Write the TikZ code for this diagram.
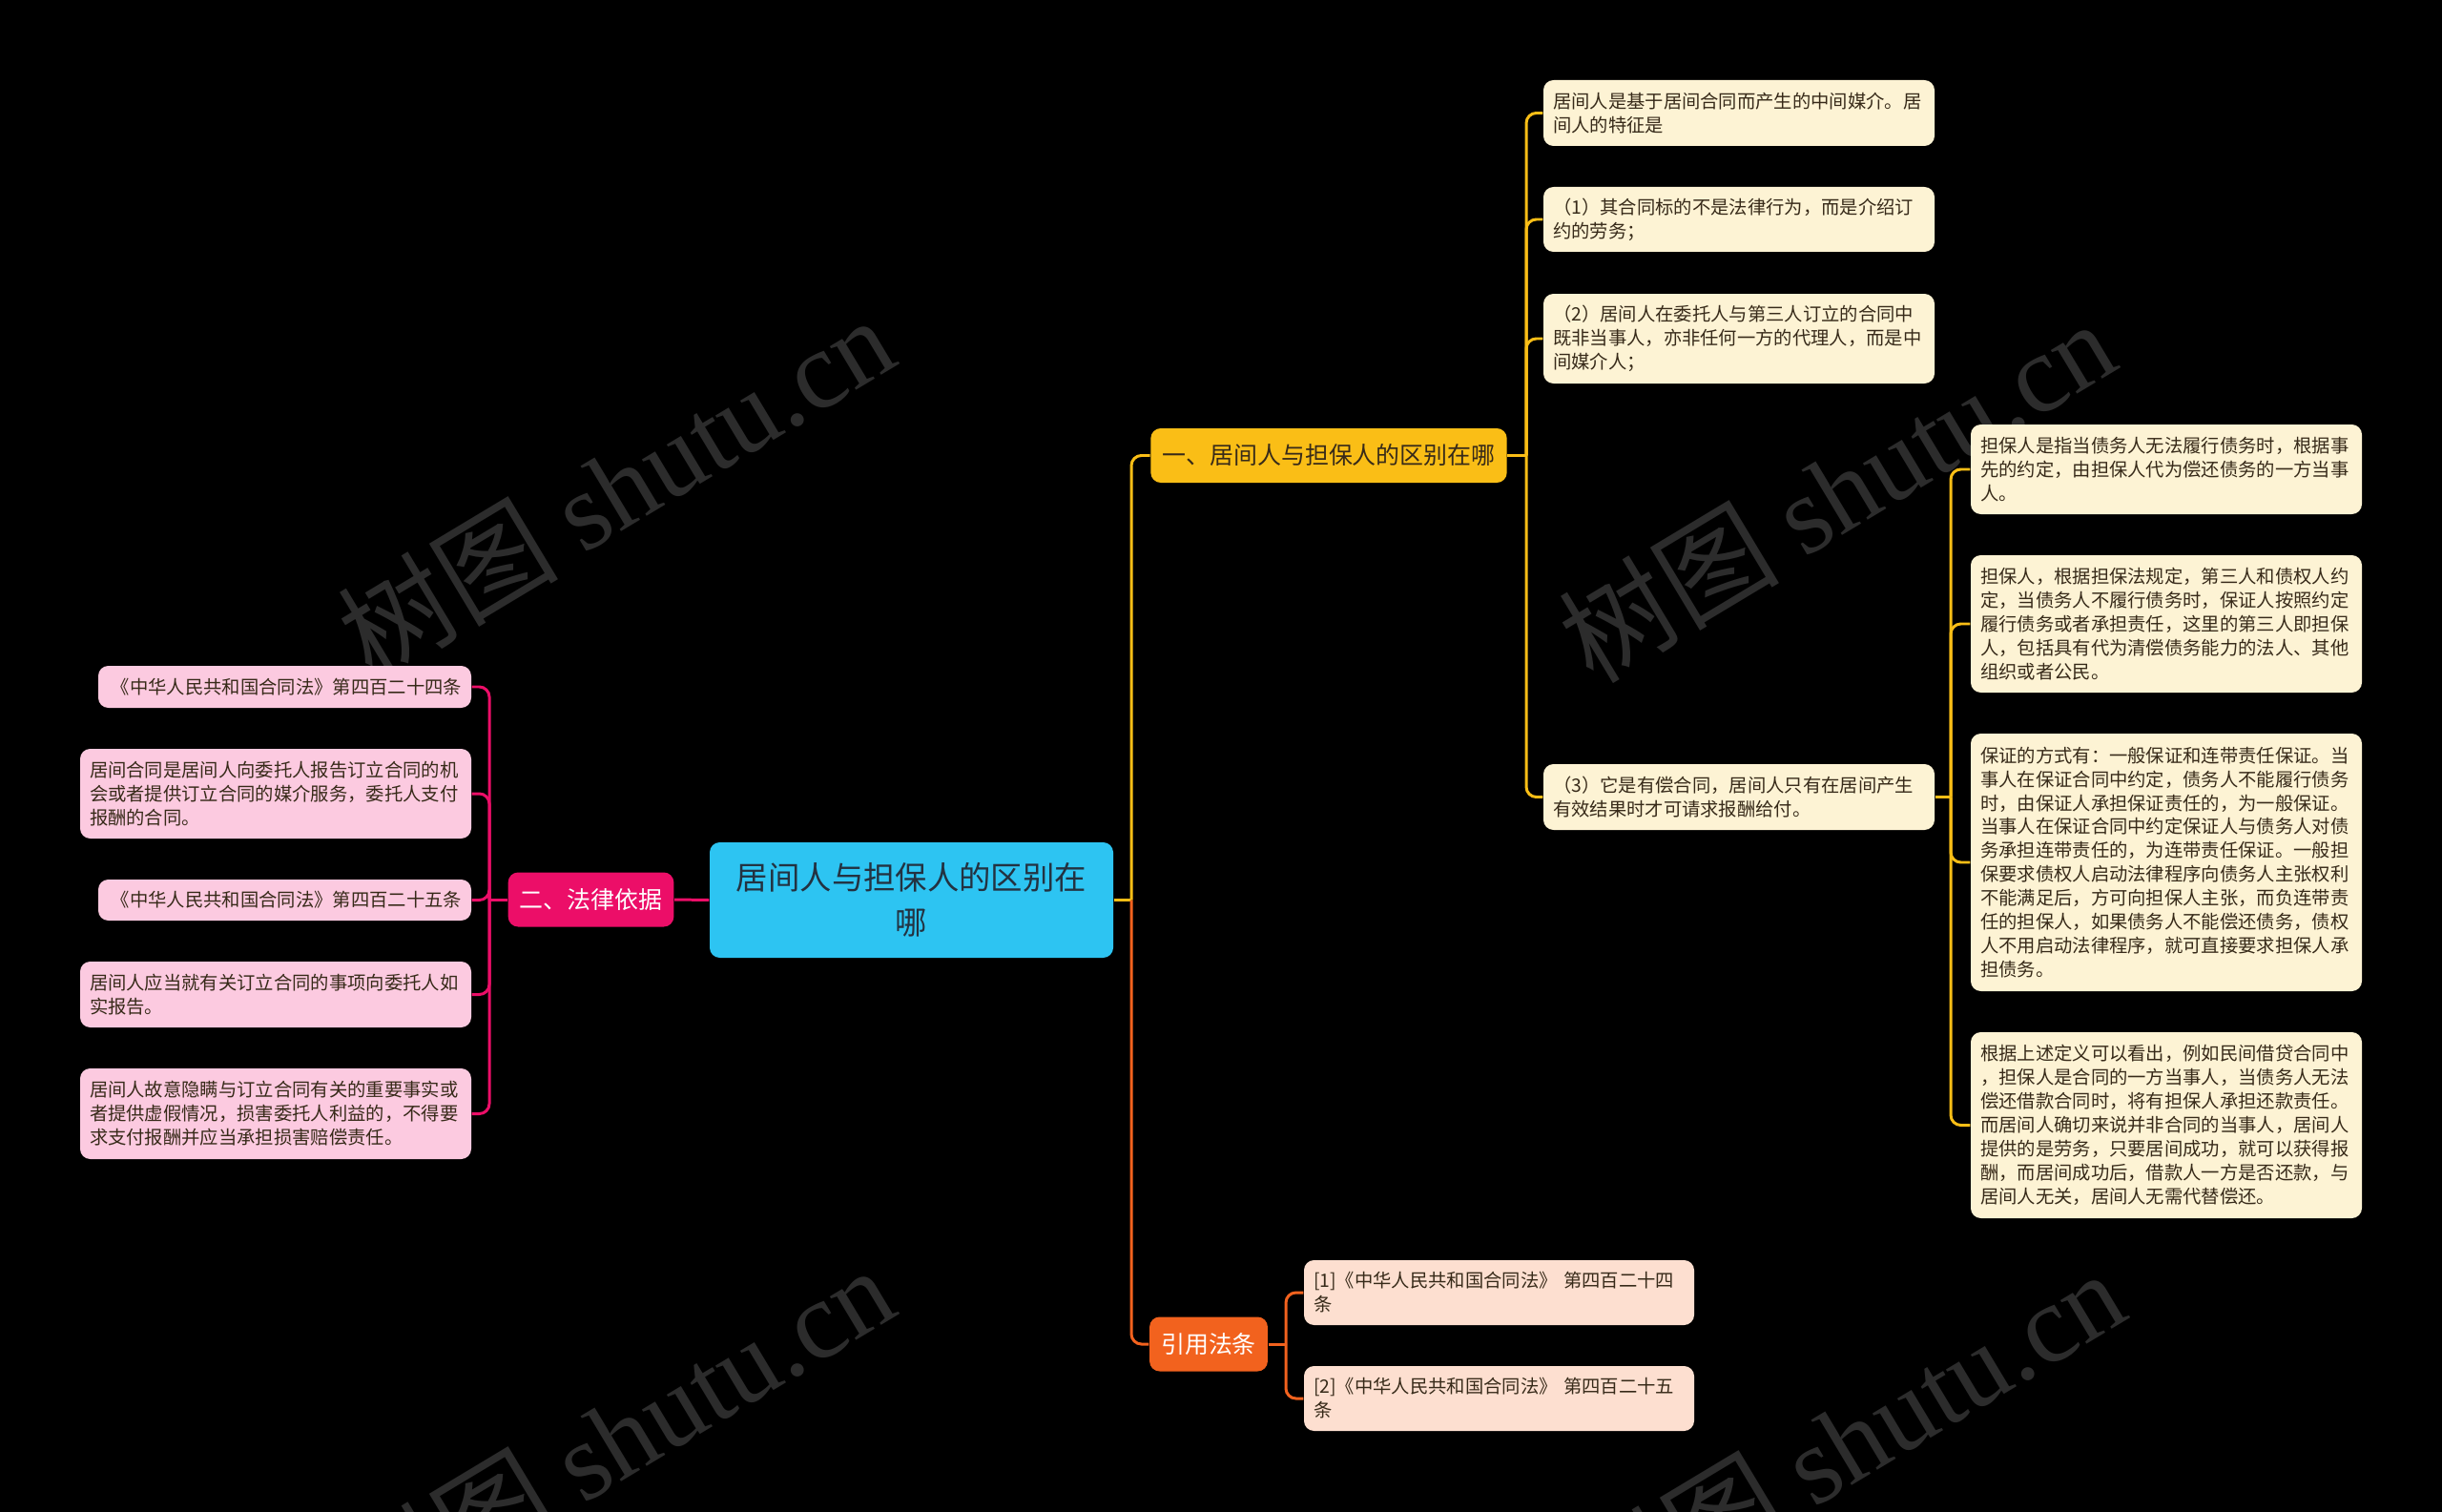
\documentclass[tikz,border=0pt]{standalone}
\usepackage{fontspec}
\setmainfont{Noto Sans CJK SC}
\newfontfamily\cjk{Noto Sans CJK SC}
\newfontfamily\wmfont{Liberation Serif}
\usetikzlibrary{positioning}

\definecolor{rootblue}{RGB}{45,196,242}
\definecolor{roottext}{RGB}{35,50,65}
\definecolor{diffyel}{RGB}{250,190,22}
\definecolor{lawpink}{RGB}{236,14,104}
\definecolor{citeorg}{RGB}{242,98,30}
\definecolor{creamfill}{RGB}{253,243,212}
\definecolor{pinkfill}{RGB}{252,202,224}
\definecolor{peachfill}{RGB}{253,223,208}
\definecolor{leaftext}{RGB}{55,42,25}
\definecolor{wmgray}{RGB}{44,44,44}

\begin{document}
\begin{tikzpicture}[
    box/.style={rounded corners=3pt, inner xsep=0.1cm, inner ysep=0pt},
    leafbox/.style={box, text=leaftext, align=left, font=\cjk\fontsize{5.5}{7.1}\selectfont},
    yleaf/.style={leafbox, fill=creamfill, text width=3.9cm},
    pleaf/.style={leafbox, fill=pinkfill, text width=3.9cm},
    oleaf/.style={leafbox, fill=peachfill, text width=3.89cm},
    branch/.style={box, inner xsep=0.12cm, minimum height=0.57cm, font=\cjk\fontsize{7.1}{8.5}\selectfont},
    link/.style={line width=0.85pt},
    elbow/.style={link, rounded corners=3pt},
    wmark/.style={rotate=31, text=wmgray, font=\cjk\fontsize{33}{36}\selectfont}
]
\fill[black] (0,0) rectangle (25.6,-15.85);
\useasboundingbox (0,0) rectangle (25.6,-15.85);

% watermark
\foreach \wx/\wy [count=\i] in {6.45/-5.1, 19.25/-5.14, 6.45/-15.06, 19.35/-15.1}
    \node[wmark] (wm\i) at (\wx,\wy) {树图 {\wmfont shutu.cn}};

% centre and branches
\node[box, fill=rootblue, text=roottext, text width=4.03cm, minimum height=1.21cm, align=center,
      font=\cjk\fontsize{9.5}{13.3}\selectfont] (root) at (9.555,-9.435) {居间人与担保人的区别在\\哪};
\node[branch, fill=lawpink, text=white] (law) at (6.195,-9.43) {二、法律依据};
\node[branch, fill=diffyel, text=leaftext] (diff) at (13.93,-4.775) {一、居间人与担保人的区别在哪};
\node[branch, fill=citeorg, text=white] (cite) at (12.67,-14.09) {引用法条};

% branch one
\node[yleaf, minimum height=0.69cm] (d1) at (18.23,-1.185) {居间人是基于居间合同而产生的中间媒介。居\\间人的特征是};
\node[yleaf, minimum height=0.68cm] (d2) at (18.23,-2.30) {（1）其合同标的不是法律行为，而是介绍订\\约的劳务；};
\node[yleaf, minimum height=0.94cm] (d3) at (18.23,-3.55) {（2）居间人在委托人与第三人订立的合同中\\既非当事人，亦非任何一方的代理人，而是中\\间媒介人；};
\node[yleaf, minimum height=0.69cm] (d4) at (18.23,-8.355) {（3）它是有偿合同，居间人只有在居间产生\\有效结果时才可请求报酬给付。};

\node[yleaf, minimum height=0.94cm] (g1) at (22.71,-4.92) {担保人是指当债务人无法履行债务时，根据事\\先的约定，由担保人代为偿还债务的一方当事\\人。};
\node[yleaf, minimum height=1.44cm] (g2) at (22.71,-6.54) {担保人，根据担保法规定，第三人和债权人约\\定，当债务人不履行债务时，保证人按照约定\\履行债务或者承担责任，这里的第三人即担保\\人，包括具有代为清偿债务能力的法人、其他\\组织或者公民。};
\node[yleaf, minimum height=2.70cm] (g3) at (22.71,-9.04) {保证的方式有：一般保证和连带责任保证。当\\事人在保证合同中约定，债务人不能履行债务\\时，由保证人承担保证责任的，为一般保证。\\当事人在保证合同中约定保证人与债务人对债\\务承担连带责任的，为连带责任保证。一般担\\保要求债权人启动法律程序向债务人主张权利\\不能满足后，方可向担保人主张，而负连带责\\任的担保人，如果债务人不能偿还债务，债权\\人不用启动法律程序，就可直接要求担保人承\\担债务。};
\node[yleaf, minimum height=1.95cm] (g4) at (22.71,-11.795) {根据上述定义可以看出，例如民间借贷合同中\\，担保人是合同的一方当事人，当债务人无法\\偿还借款合同时，将有担保人承担还款责任。\\而居间人确切来说并非合同的当事人，居间人\\提供的是劳务，只要居间成功，就可以获得报\\酬，而居间成功后，借款人一方是否还款，与\\居间人无关，居间人无需代替偿还。};

% branch two
\node[pleaf, text width=3.71cm, align=right, minimum height=0.44cm] (l1) at (2.985,-7.20) {《中华人民共和国合同法》第四百二十四条};
\node[pleaf, minimum height=0.94cm] (l2) at (2.89,-8.32) {居间合同是居间人向委托人报告订立合同的机\\会或者提供订立合同的媒介服务，委托人支付\\报酬的合同。};
\node[pleaf, text width=3.71cm, align=right, minimum height=0.43cm] (l3) at (2.985,-9.435) {《中华人民共和国合同法》第四百二十五条};
\node[pleaf, minimum height=0.69cm] (l4) at (2.89,-10.425) {居间人应当就有关订立合同的事项向委托人如\\实报告。};
\node[pleaf, minimum height=0.95cm] (l5) at (2.89,-11.675) {居间人故意隐瞒与订立合同有关的重要事实或\\者提供虚假情况，损害委托人利益的，不得要\\求支付报酬并应当承担损害赔偿责任。};

% cited articles
\node[oleaf, minimum height=0.68cm] (r1) at (15.715,-13.55) {[1]《中华人民共和国合同法》 第四百二十四\\条};
\node[oleaf, minimum height=0.68cm] (r2) at (15.715,-14.66) {[2]《中华人民共和国合同法》 第四百二十五\\条};

% connectors
\coordinate (jroot) at (11.86,-9.435);
\coordinate (jdiff) at (16.00,-4.775);
\coordinate (jd4) at (20.45,-8.355);
\coordinate (jlaw) at (5.13,-9.43);
\coordinate (jcite) at (13.48,-14.09);

\draw[link, lawpink] (root.west) -- (law.east);
\draw[link, diffyel] (root.east) -- (jroot);
\draw[elbow, diffyel] (jroot) |- (diff.west);
\draw[elbow, citeorg] (jroot) |- (cite.west);

\draw[link, diffyel] (diff.east) -- (jdiff);
\foreach \c in {d1,d2,d3,d4}
    \draw[elbow, diffyel] (jdiff) |- (\c.west);
\draw[link, diffyel] (d4.east) -- (jd4);
\foreach \c in {g1,g2,g3,g4}
    \draw[elbow, diffyel] (jd4) |- (\c.west);

\draw[link, lawpink] (law.west) -- (jlaw);
\foreach \c in {l1,l2,l3,l4,l5}
    \draw[elbow, lawpink] (jlaw) |- (\c.east);

\draw[link, citeorg] (cite.east) -- (jcite);
\foreach \c in {r1,r2}
    \draw[elbow, citeorg] (jcite) |- (\c.west);
\end{tikzpicture}
\end{document}
